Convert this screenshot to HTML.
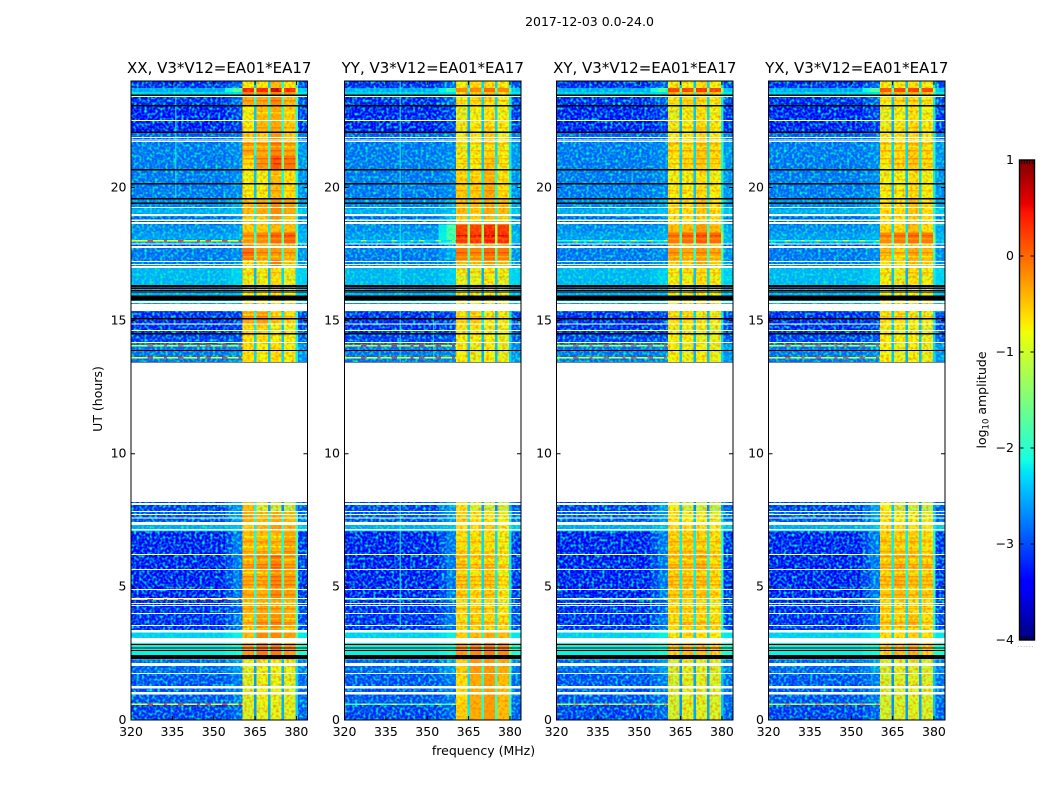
<!DOCTYPE html>
<html lang="en">
<head>
<meta charset="utf-8">
<title>2017-12-03 0.0-24.0 dynamic spectra</title>
<style>
html,body{margin:0;padding:0;background:#fff;}
svg{display:block;}
text{font-family:"DejaVu Sans","Liberation Sans",sans-serif;fill:#000;}
</style>
</head>
<body>
<svg id="figure" width="1050" height="800" viewBox="0 0 1050 800" xmlns="http://www.w3.org/2000/svg">
  <defs>
    <filter id="grainBg" x="0" y="0" width="1" height="1" color-interpolation-filters="sRGB">
      <feTurbulence type="fractalNoise" baseFrequency="0.38" numOctaves="1" seed="4"/>
      <feColorMatrix type="matrix" values="0 0 0 0 0  0 0 0 0 1  0 0 0 0 0.75  0 0 0 2.8 -1.2"/>
    </filter>
    <filter id="grainBand" x="0" y="0" width="1" height="1" color-interpolation-filters="sRGB">
      <feTurbulence type="fractalNoise" baseFrequency="0.38" numOctaves="1" seed="9"/>
      <feColorMatrix type="matrix" values="0 0 0 0 1  0 0 0 0 0.45  0 0 0 0 0  0 0 0 2.0 -0.85"/>
    </filter>
    <linearGradient id="jetGradient" x1="0" y1="1" x2="0" y2="0"></linearGradient>
  </defs>
  <rect x="0" y="0" width="1050" height="800" fill="#fff"/>
  <text x="589.5" y="26" font-size="12.5" text-anchor="middle">2017-12-03 0.0-24.0</text>
  <text x="483.5" y="755" font-size="12.5" text-anchor="middle">frequency (MHz)</text>
  <text x="0" y="0" font-size="12.5" text-anchor="middle" transform="translate(102,399) rotate(-90)">UT (hours)</text>
  <text x="0" y="0" font-size="12.5" text-anchor="middle" transform="translate(986,400) rotate(-90)">log<tspan font-size="8.5" dy="2.5">10</tspan><tspan dy="-2.5"> amplitude</tspan></text>
  <g id="panels"></g>
  <g id="colorbar"></g>
</svg>
<script>
// ---------- chart data ----------
const panelTitles = ["XX, V3*V12=EA01*EA17", "YY, V3*V12=EA01*EA17", "XY, V3*V12=EA01*EA17", "YX, V3*V12=EA01*EA17"];
const freqTicks = [320, 335, 350, 365, 380];
const timeTicks = [0, 5, 10, 15, 20];
const colorbarTicks = [1, 0, -1, -2, -3, -4];

// UT (hours) boundaries of the time segments, bottom to top
const utEdges = [0, 0.60, 1.73, 2.29, 3.00, 3.34, 3.98, 4.54, 5.63, 6.20, 7.10, 7.32, 7.44, 7.85, 8.19, 13.45, 14.16, 14.50, 14.87, 15.36, 15.66, 16.34, 16.98, 17.28, 17.73, 17.88, 18.33, 18.63, 18.93, 19.23, 19.57, 20.66, 21.22, 21.71, 22.08, 23.06, 23.44, 23.59, 23.74, 24.00];

// log10 amplitude of the off-band background per time segment (null = no data)
const backgroundLevels = [-3.2,-3.1,-3.0,-2.2,-2.4,-3.3,-3.3,-3.4,-3.4,-3.4,-2.6,-2.6,-3.1,-3.2,null,-2.9,-3.2,-3.3,-3.3,-2.8,-2.6,-2.55,-2.9,-2.9,-3.2,-2.7,-2.8,-3.0,-2.6,-2.8,-2.9,-2.9,-2.9,-3.0,-3.4,-3.3,-2.4,-2.6,-3.3];
// log10 amplitude just below the first band
const rampLevels = [-3.0,-2.9,-2.7,-2.1,-2.2,-2.9,-3.0,-2.9,-2.9,-2.9,-2.5,-2.5,-2.7,-2.7,null,-2.8,-3.1,-3.2,-3.2,-2.6,-2.5,-2.4,-2.8,-2.8,-3.1,-2.6,-2.7,-2.8,-2.5,-2.6,-2.8,-2.8,-2.8,-2.9,-3.2,-3.0,-2.3,-1.6,-3.0];
const rampLevelsYY = [-3.0,-2.9,-2.7,-2.1,-2.2,-2.9,-3.0,-2.9,-2.9,-2.9,-2.5,-2.5,-2.7,-2.7,null,-2.8,-3.1,-3.2,-3.2,-2.6,-2.5,-2.4,-2.8,-2.6,-2.9,-1.7,-1.7,-2.5,-2.5,-2.6,-2.8,-2.8,-2.8,-2.9,-3.2,-3.0,-2.3,-1.8,-3.0];

// log10 amplitude per time segment: [band1, band2, band3, band4]
const levelsXX = [
[-1.0,-0.9,-0.9,-0.95],[-1.0,-0.85,-0.9,-0.95],[-0.95,-0.85,-0.85,-0.9],[-0.3,-0.1,-0.1,-0.3],
[-0.5,-0.2,-0.2,-0.3],[-0.5,-0.3,-0.2,-0.4],[-0.5,-0.4,-0.4,-0.5],[-0.45,-0.45,-0.2,-0.35],
[-0.45,-0.35,-0.15,-0.4],[-0.5,-0.5,-0.5,-0.35],[-0.6,-0.5,-0.3,-0.5],[-0.6,-0.5,-0.3,-0.5],
[-0.4,-0.5,-0.4,-0.5],[-0.5,-1.0,-1.1,-1.2],null,[-0.7,-0.8,-0.7,-0.8],
[-0.7,-0.7,-0.8,-0.8],[-0.6,-0.6,-0.8,-0.8],[-0.4,-0.3,-0.6,-0.7],[-0.8,-0.9,-1.0,-1.1],
[-0.8,-0.8,-0.7,-0.9],[-0.85,-0.85,-0.7,-0.9],[-0.7,-0.6,-0.1,-0.6],[-0.05,-0.3,-0.3,-0.4],
[-0.2,-0.4,-0.4,-0.5],[-0.3,-0.2,0.0,0.05],[-0.6,-0.6,-0.5,-0.5],[-0.6,-0.6,-0.3,-0.6],
[-0.5,-0.4,-0.2,-0.4],[-0.5,-0.4,-0.2,-0.3],[-0.8,-0.8,-0.5,-0.7],[-0.7,-0.3,0.1,-0.1],
[-0.4,-0.4,-0.2,-0.4],[-0.6,-0.6,-0.3,-0.6],[-0.8,-0.5,-0.4,-0.6],[-0.4,-0.4,-0.2,-0.5],
[-0.2,-0.2,-0.2,-0.3],[0.4,0.4,0.7,0.4],[-0.8,-0.75,-0.5,-0.75]];
const levelsYY = [
[-0.6,-0.4,-0.3,-0.5],[-0.7,-0.4,-0.3,-0.5],[-0.6,-0.3,-0.3,-0.4],[-0.3,-0.2,-0.1,-0.2],
[-0.6,-0.5,-0.4,-0.5],[-0.7,-0.6,-0.6,-0.7],[-0.7,-0.7,-0.7,-0.8],[-0.6,-0.7,-0.6,-0.8],
[-0.6,-0.7,-0.6,-0.8],[-0.7,-0.7,-0.7,-0.8],[-0.7,-0.7,-0.6,-0.8],[-0.7,-0.7,-0.6,-0.8],
[-0.6,-0.7,-0.7,-0.8],[-0.7,-1.0,-1.1,-1.1],null,[-0.8,-0.9,-0.8,-0.9],
[-0.8,-0.8,-0.8,-0.9],[-0.7,-0.7,-0.8,-0.8],[-0.7,-0.6,-0.8,-0.8],[-0.9,-1.0,-1.0,-1.1],
[-0.9,-0.9,-0.8,-0.9],[-0.9,-0.9,-0.75,-0.9],[-0.5,-0.5,-0.3,-0.5],[-0.1,-0.2,0.0,-0.1],
[-0.5,-0.6,-0.5,-0.5],[0.3,0.3,0.45,0.35],[0.25,0.25,0.4,0.3],[-0.6,-0.6,-0.5,-0.6],
[-0.5,-0.6,-0.4,-0.5],[-0.5,-0.5,-0.4,-0.5],[-0.6,-0.6,-0.4,-0.7],[-0.8,-0.8,-0.6,-0.8],
[-0.9,-0.8,-0.7,-0.8],[-0.8,-0.8,-0.6,-0.8],[-0.9,-0.8,-0.7,-0.8],[-0.8,-0.7,-0.7,-0.8],
[-0.7,-0.6,-0.5,-0.7],[-0.2,-0.2,0.0,-0.2],[-0.8,-0.7,-0.7,-0.8]];
const levelsXY = [
[-1.05,-0.95,-0.95,-1.0],[-1.05,-0.95,-0.95,-1.0],[-1.05,-0.95,-0.95,-1.0],[-0.6,-0.5,-0.5,-0.6],
[-0.8,-0.7,-0.7,-0.8],[-0.7,-0.6,-0.6,-0.7],[-0.7,-0.7,-0.7,-0.8],[-0.6,-0.6,-0.6,-0.7],
[-0.6,-0.6,-0.5,-0.7],[-0.6,-0.6,-0.6,-0.7],[-0.7,-0.7,-0.7,-0.8],[-0.7,-0.7,-0.7,-0.8],
[-0.7,-0.8,-0.8,-0.9],[-0.8,-1.1,-1.1,-1.2],null,[-0.8,-0.9,-0.8,-0.9],
[-0.8,-0.8,-0.9,-0.9],[-0.8,-0.8,-0.8,-0.9],[-0.7,-0.7,-0.8,-0.8],[-0.9,-1.0,-1.1,-1.1],
[-0.9,-0.9,-0.8,-0.9],[-0.8,-0.8,-0.7,-0.8],[-0.6,-0.6,-0.4,-0.6],[-0.3,-0.4,-0.3,-0.4],
[-0.5,-0.6,-0.5,-0.6],[-0.1,0.0,0.1,0.0],[-0.5,-0.5,-0.3,-0.5],[-0.7,-0.7,-0.6,-0.7],
[-0.7,-0.7,-0.6,-0.7],[-0.7,-0.7,-0.5,-0.7],[-0.8,-0.8,-0.7,-0.8],[-0.8,-0.7,-0.6,-0.7],
[-0.7,-0.7,-0.6,-0.7],[-0.8,-0.8,-0.7,-0.8],[-0.9,-0.8,-0.7,-0.8],[-0.8,-0.7,-0.7,-0.8],
[-0.5,-0.5,-0.5,-0.6],[0.2,0.2,0.3,0.2],[-0.8,-0.8,-0.7,-0.8]];
const levelsYX = [
[-1.05,-1.0,-0.95,-1.0],[-1.05,-1.0,-0.95,-1.0],[-1.05,-0.95,-0.95,-1.0],[-0.6,-0.5,-0.4,-0.6],
[-0.7,-0.7,-0.6,-0.7],[-0.6,-0.6,-0.5,-0.7],[-0.7,-0.7,-0.7,-0.7],[-0.6,-0.5,-0.6,-0.6],
[-0.6,-0.5,-0.6,-0.6],[-0.6,-0.6,-0.6,-0.7],[-0.7,-0.7,-0.7,-0.8],[-0.7,-0.7,-0.7,-0.8],
[-0.7,-0.8,-0.8,-0.9],[-0.8,-1.1,-1.1,-1.2],null,[-0.8,-0.9,-0.8,-0.9],
[-0.8,-0.8,-0.8,-0.9],[-0.8,-0.8,-0.8,-0.9],[-0.7,-0.7,-0.8,-0.8],[-0.9,-1.0,-1.1,-1.1],
[-0.9,-0.9,-0.8,-0.9],[-0.8,-0.9,-0.7,-0.8],[-0.7,-0.7,-0.5,-0.6],[-0.5,-0.6,-0.4,-0.5],
[-0.6,-0.7,-0.6,-0.7],[-0.2,-0.1,-0.05,-0.1],[-0.7,-0.7,-0.5,-0.7],[-0.7,-0.7,-0.6,-0.7],
[-0.7,-0.7,-0.6,-0.7],[-0.7,-0.7,-0.5,-0.7],[-0.8,-0.8,-0.7,-0.8],[-0.8,-0.7,-0.6,-0.7],
[-0.7,-0.7,-0.6,-0.7],[-0.8,-0.8,-0.7,-0.8],[-0.9,-0.8,-0.7,-0.8],[-0.8,-0.7,-0.7,-0.8],
[-0.5,-0.5,-0.5,-0.6],[0.1,0.2,0.25,0.2],[-0.8,-0.8,-0.7,-0.8]];

// narrow horizontal stripes inside the bands: UT hour and amplitude change
const stripeHours = [23.29,22.84,22.27,21.67,21.56,21.41,21.11,20.92,20.47,19.91,18.22,18.10,17.58,17.43,16.83,16.68,15.25,15.17,14.72,6.91,6.72,6.54,6.35,6.16,6.05,5.86,5.75,5.56,5.41,5.26,5.11,4.96,4.73,4.43,4.21,3.83,3.68,3.46];
const stripeDeltas = [0.25,-0.25,0.25,0.3,-0.25,0.3,0.3,0.3,-0.25,0.25,0.25,-0.2,0.25,-0.25,0.25,-0.25,-0.25,0.25,-0.25,-0.3,0.25,-0.3,0.25,0.3,-0.25,0.3,0.25,-0.3,0.3,0.25,0.3,-0.3,0.25,-0.3,0.25,-0.3,0.25,-0.3];

// flagged intervals in UT hours [low, high]
const flaggedWhite = [[23.40,23.44],[22.50,22.54],[21.86,21.90],[21.76,21.80],[21.71,21.75],[19.23,19.27],[18.93,19.00],[18.74,18.80],[18.63,18.70],[17.86,17.90],[17.73,17.80],[17.20,17.24],[17.09,17.13],[16.98,17.05],[15.66,15.74],[15.36,15.62],[14.85,14.89],[14.61,14.65],[14.16,14.20],[8.19,13.45],[8.07,8.15],[7.81,7.85],[7.70,7.74],[7.56,7.61],[7.32,7.44],[7.11,7.17],[6.20,6.23],[5.63,5.67],[4.88,4.92],[4.54,4.58],[4.36,4.39],[4.28,4.32],[3.98,4.02],[3.53,3.57],[3.29,3.38],[2.90,3.08],[2.03,2.14],[1.73,1.77],[1.18,1.28],[0.95,1.05]];
const flaggedBlack = [[23.44,23.50],[23.04,23.10],[22.05,22.10],[20.64,20.69],[20.11,20.16],[19.55,19.60],[19.38,19.43],[16.27,16.34],[16.19,16.24],[16.11,16.15],[16.06,16.09],[15.75,15.94],[15.04,15.09],[14.48,14.53],[13.85,13.90],[13.42,13.45],[2.82,2.85],[2.69,2.72],[2.59,2.63],[2.29,2.44]];

// narrow-band interference rows
const rfiHours = [0.60, 4.53, 13.60, 14.05, 18.00];
const rfiFreqs = [326, 327, 332, 337, 338, 344, 347, 348, 353, 354, 359];
const rfiXX = [0.2, 0.3, 0.2, 0.0, 0.2];
const rfiYY = [-0.9, -1.2, 0.2, 0.3, -1.3];
const rfiXY = [-0.2, -0.9, 0.1, 0.0, -1.0];
const rfiYX = [-0.2, -0.9, 0.1, 0.0, -1.0];

// narrow vertical interference channels per panel: [MHz, UT from, UT to]
const channelsXX = [[336, 19.6, 23.4]];
const channelsYY = [[340, 3.5, 24], [352, 13.5, 15.3]];
const channelsXY = [];
const channelsYX = [];
const channelLevel = -2.2;

const panelLevels = [levelsXX, levelsYY, levelsXY, levelsYX];
const panelRamps = [rampLevels, rampLevelsYY, rampLevels, rampLevels];
const panelRfi = [rfiXX, rfiYY, rfiXY, rfiYX];
const panelChannels = [channelsXX, channelsYY, channelsXY, channelsYX];

// ---------- layout ----------
const panelLefts = [131, 344.5, 556.5, 768.5];
const panelWidth = 176.5;
const plotTop = 81, plotBottom = 720;
const freqMin = 320, freqMax = 384, utMin = 0, utMax = 24;
const cbLeft = 1019.5, cbRight = 1034.5, cbTop = 160, cbBottom = 640, cbMin = -4, cbMax = 1;
// frequency column layout: from MHz, to MHz, source, offset
const columns = [
  {from:320, to:354, src:"bg", off:0},
  {from:354, to:357, src:"mid", off:0},
  {from:357, to:360.4, src:"ramp", off:0},
  {from:360.4, to:364.6, src:0, off:0},
  {from:365.4, to:369.6, src:1, off:0},
  {from:370.4, to:374.6, src:2, off:0},
  {from:375.4, to:379.6, src:3, off:0},
  {from:380.4, to:384, src:"bg", off:0.15}
];
const bandColumns = [
  {from:360.4, to:364.6, src:0},
  {from:365.4, to:369.6, src:1},
  {from:370.4, to:374.6, src:2},
  {from:375.4, to:379.6, src:3}
];
const gapColumns = [
  {from:364.6, to:365.4, src:0, off:-1.6},
  {from:369.6, to:370.4, src:1, off:-1.6},
  {from:374.6, to:375.4, src:2, off:-1.6},
  {from:379.6, to:380.4, src:3, off:-1.4}
];

const xScale = (f, left) => left + (f - freqMin) / (freqMax - freqMin) * panelWidth;
const yScale = (h) => plotBottom - (h - utMin) / (utMax - utMin) * (plotBottom - plotTop);
const cbScale = (v) => cbBottom - (v - cbMin) / (cbMax - cbMin) * (cbBottom - cbTop);

function interp(stops, t) {
  for (let i = 1; i < stops.length; i++) {
    if (t <= stops[i][0]) {
      const a = stops[i - 1], b = stops[i];
      return a[1] + (b[1] - a[1]) * (t - a[0]) / (b[0] - a[0]);
    }
  }
  return stops[stops.length - 1][1];
}
const jetR = [[0,0],[0.35,0],[0.66,1],[0.89,1],[1,0.5]];
const jetG = [[0,0],[0.125,0],[0.375,1],[0.64,1],[0.91,0],[1,0]];
const jetB = [[0,0.5],[0.11,1],[0.34,1],[0.65,0],[1,0]];
function jet(v) {
  const t = Math.max(0, Math.min(1, (v - cbMin) / (cbMax - cbMin)));
  return "rgb(" + Math.round(interp(jetR, t) * 255) + "," + Math.round(interp(jetG, t) * 255) + "," + Math.round(interp(jetB, t) * 255) + ")";
}
function segmentAt(h) {
  for (let i = 0; i < utEdges.length - 1; i++) {
    if (h >= utEdges[i] && h < utEdges[i + 1]) return i;
  }
  return utEdges.length - 2;
}

const NS = "http://www.w3.org/2000/svg";
function make(tag, attrs, parent) {
  const el = document.createElementNS(NS, tag);
  for (const k in attrs) el.setAttribute(k, attrs[k]);
  parent.appendChild(el);
  return el;
}

const panelsRoot = document.getElementById("panels");
const defs = document.querySelector("defs");

panelTitles.forEach((title, p) => {
  const left = panelLefts[p];
  const right = left + panelWidth;
  const levels = panelLevels[p];
  const ramps = panelRamps[p];
  const rfi = panelRfi[p];

  const clip = make("clipPath", { id: "clip" + p }, defs);
  
  
  make("rect", { x: left, y: plotTop, width: panelWidth, height: plotBottom - plotTop }, clip);

  const panel = make("g", {}, panelsRoot);
  
  

  const map = make("g", { "clip-path": "url(#clip" + p + ")", "shape-rendering": "crispEdges" }, panel);
  
  

  // amplitude cells
  levels.forEach((row, i) => {
    if (!row) return;
    const yTop = yScale(utEdges[i + 1]);
    const yBot = yScale(utEdges[i]);
    columns.forEach((col) => {
      let v;
      if (col.src === "bg") v = backgroundLevels[i];
      else if (col.src === "ramp") v = ramps[i];
      else if (col.src === "mid") v = (backgroundLevels[i] + ramps[i]) / 2;
      else v = row[col.src];
      const x0 = xScale(col.from, left);
      const x1 = xScale(col.to, left);
      const cell = make("rect", { x: x0, y: yTop, width: x1 - x0 + 0.3, height: yBot - yTop + 0.3, fill: jet(v + col.off) }, map);
      
      
    });
  });

  // stripes inside the bands
  stripeHours.forEach((h, i) => {
    const row = levels[segmentAt(h)];
    if (!row) return;
    bandColumns.forEach((col) => {
      const x0 = xScale(col.from, left);
      const x1 = xScale(col.to, left);
      const stripe = make("rect", { x: x0, y: yScale(h), width: x1 - x0, height: 1.4, fill: jet(row[col.src] + stripeDeltas[i]) }, map);
      
      
    });
  });

  // vertical interference channels
  panelChannels[p].forEach((c) => {
    const chan = make("rect", { x: xScale(c[0], left), y: yScale(c[2]), width: 1.2, height: yScale(c[1]) - yScale(c[2]), fill: jet(channelLevel), "fill-opacity": 0.7 }, map);
    
    
  });

  // speckle texture (decorative only)
  const speckleBg = make("rect", { x: left, y: plotTop, width: xScale(360.4, left) - left, height: plotBottom - plotTop, filter: "url(#grainBg)" }, map);
  
  
  const speckleTail = make("rect", { x: xScale(380.4, left), y: plotTop, width: right - xScale(380.4, left), height: plotBottom - plotTop, filter: "url(#grainBg)" }, map);
  
  
  const speckleBand = make("rect", { x: xScale(360.4, left), y: plotTop, width: xScale(380.4, left) - xScale(360.4, left), height: plotBottom - plotTop, filter: "url(#grainBand)" }, map);
  
  

  // gap channels between the bands, drawn over the speckle
  levels.forEach((row, i) => {
    if (!row) return;
    const yTop = yScale(utEdges[i + 1]);
    const yBot = yScale(utEdges[i]);
    gapColumns.forEach((col) => {
      const x0 = xScale(col.from, left);
      const x1 = xScale(col.to, left);
      const gap = make("rect", { x: x0, y: yTop, width: x1 - x0 + 0.3, height: yBot - yTop + 0.3, fill: jet(row[col.src] + col.off) }, map);
      
      
    });
  });

  // interference rows
  rfiHours.forEach((h, i) => {
    const y = yScale(h);
    const base = make("rect", { x: left, y: y - 0.7, width: xScale(360.4, left) - left, height: 1.5, fill: jet(rfi[i] - 1.0) }, map);
    
    
    rfiFreqs.forEach((f) => {
      const spot = make("rect", { x: xScale(f, left), y: y - 0.7, width: 2.8, height: 1.5, fill: jet(rfi[i]) }, map);
      
      
    });
  });

  // flagged rows
  flaggedWhite.forEach((iv) => {
    const r = make("rect", { x: left, y: yScale(iv[1]), width: panelWidth, height: yScale(iv[0]) - yScale(iv[1]), fill: "#fff" }, map);
    
    
  });
  flaggedBlack.forEach((iv) => {
    const r = make("rect", { x: left, y: yScale(iv[1]), width: panelWidth, height: yScale(iv[0]) - yScale(iv[1]), fill: "#000" }, map);
    
    
  });

  // frame
  const frame = make("rect", { x: left, y: plotTop, width: panelWidth, height: plotBottom - plotTop, fill: "none", stroke: "#000", "stroke-width": 1 }, panel);
  
  

  // ticks
  freqTicks.forEach((f) => {
    const x = xScale(f, left);
    const t1 = make("line", { x1: x, x2: x, y1: plotBottom, y2: plotBottom - 4, stroke: "#000" }, panel);
    
    
    const t2 = make("line", { x1: x, x2: x, y1: plotTop, y2: plotTop + 4, stroke: "#000" }, panel);
    
    
    const lab = make("text", { x: x, y: 736, "font-size": 12.5, "text-anchor": "middle" }, panel);
    
    
    lab.textContent = f;
  });
  timeTicks.forEach((h) => {
    const y = yScale(h);
    const t1 = make("line", { x1: left, x2: left + 4, y1: y, y2: y, stroke: "#000" }, panel);
    
    
    const t2 = make("line", { x1: right, x2: right - 4, y1: y, y2: y, stroke: "#000" }, panel);
    
    
    const lab = make("text", { x: left - 4.5, y: y + 3.8, "font-size": 12.5, "text-anchor": "end" }, panel);
    
    
    lab.textContent = h;
  });

  const ttl = make("text", { x: left + panelWidth / 2, y: 73, "font-size": 15, "text-anchor": "middle" }, panel);
  
  
  ttl.textContent = title;
});

// ---------- colorbar ----------
const gradient = document.getElementById("jetGradient");
const gradientStops = [0, 0.11, 0.125, 0.34, 0.35, 0.375, 0.64, 0.65, 0.66, 0.89, 0.91, 1];
gradientStops.forEach((t) => {
  const s = make("stop", { offset: t, "stop-color": jet(cbMin + t * (cbMax - cbMin)) }, gradient);
  
  
});
const cb = document.getElementById("colorbar");
const cbFill = make("rect", { x: cbLeft, y: cbTop, width: cbRight - cbLeft, height: cbBottom - cbTop, fill: "url(#jetGradient)", stroke: "#000", "stroke-width": 1.4 }, cb);


colorbarTicks.forEach((v) => {
  const y = cbScale(v);
  const t1 = make("line", { x1: cbLeft, x2: cbLeft + 4, y1: y, y2: y, stroke: "#000" }, cb);
  
  
  const t2 = make("line", { x1: cbRight, x2: cbRight - 4, y1: y, y2: y, stroke: "#000" }, cb);
  
  
  const lab = make("text", { x: 1014, y: y + 4, "font-size": 12.5, "text-anchor": "end" }, cb);
  
  
  lab.textContent = (v < 0 ? "\u2212" + (-v) : String(v));
});
const smallTicks = [0.15, 0.32, 0.5, 0.68, 0.85];
smallTicks.forEach((f) => {
  const x = cbLeft + f * (cbRight - cbLeft);
  const a = make("line", { x1: x, x2: x, y1: cbTop, y2: cbTop + 4, stroke: "#000", "stroke-width": 0.8 }, cb);
  
  
  const b = make("line", { x1: x, x2: x, y1: cbBottom, y2: cbBottom - 4, stroke: "#000", "stroke-width": 0.8 }, cb);
  
  
});
const dots = make("text", { x: 1026, y: 647, "font-size": 6, "text-anchor": "middle", "letter-spacing": 1 }, cb);


dots.setAttribute('fill-opacity', '0.55');
dots.textContent = "......";
</script>
</body>
</html>
